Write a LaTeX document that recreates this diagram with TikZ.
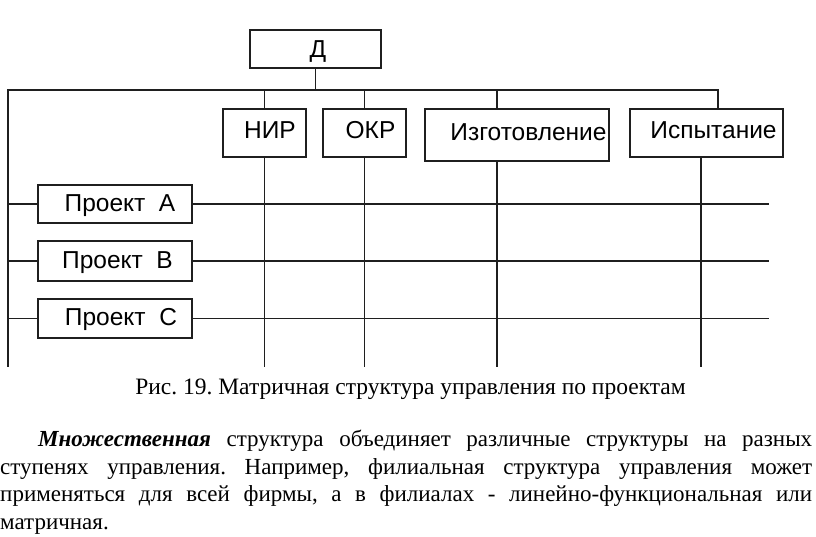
\documentclass[tikz,border=0pt]{standalone}
\usepackage{fontspec}
\setmainfont{Liberation Serif}
\newfontfamily\boxfont{Liberation Sans}
\usetikzlibrary{positioning, calc}
\definecolor{lineBlack}{gray}{0.12}
\frenchspacing
\tikzset{
    unit/.style={draw=lineBlack, line width=1.3pt, inner sep=0pt, text height=17.5pt, text depth=7pt,
        font=\boxfont\fontsize{24.5}{28}\selectfont},
    link/.style={draw=lineBlack, line width=1.3pt}
}

\begin{document}
\begin{tikzpicture}[x=1pt, y=-1pt]
    \useasboundingbox (0,0) rectangle (816,536);
    \fill[white] (0,0) rectangle (816,536);

    % boxes
    \node[unit, text depth=0pt, minimum width=131pt, minimum height=38pt] (D) at (315.5,49) {\hspace*{5pt}Д};
    \node[unit, minimum width=83pt, minimum height=48pt] (nir) at (264.5,133) {\hspace*{11pt}НИР};
    \node[unit, minimum width=83pt, minimum height=48pt] (okr) at (364.5,133) {\hspace*{12pt}ОКР};
    \node[unit, minimum width=184pt, minimum height=52pt] (izg) at (517,135) {\hspace*{23pt}Изготовление};
    \node[unit, minimum width=153pt, minimum height=48pt] (isp) at (706.5,133) {\hspace*{14pt}Испытание};
    \node[unit, text depth=3pt, minimum width=154pt, minimum height=38pt] (pa) at (115,204) {\hspace*{10pt}Проект\ \ А};
    \node[unit, text depth=3pt, minimum width=154pt, minimum height=40pt] (pb) at (115,261) {\hspace*{5pt}Проект\ \ В};
    \node[unit, text depth=3pt, minimum width=154pt, minimum height=39pt] (pc) at (115,318.5) {\hspace*{12pt}Проект\ \ С};

    \coordinate (tl) at (8,90);
    \coordinate (tr) at (718,90);
    \coordinate (bl) at (8,367);
    \coordinate (re) at (769,0);

    % frame lines
    \draw[link] (D.south) -- (D.south |- tl);
    \draw[link] (tr |- isp.north) -- (tr) -- (tl) -- (bl);

    % columns
    \draw[link] (nir.north |- tl) -- (nir.north);
    \draw[link] (nir.south) -- (nir.south |- bl);
    \draw[link] (okr.north |- tl) -- (okr.north);
    \draw[link] (okr.south) -- (okr.south |- bl);
    \draw[link] ([xshift=-20pt]izg.north |- tl) -- ([xshift=-20pt]izg.north);
    \draw[link] ([xshift=-20pt]izg.south) -- ([xshift=-20pt]izg.south |- bl);
    \draw[link] ([xshift=-5.5pt]isp.south) -- ([xshift=-5.5pt]isp.south |- bl);

    % rows
    \foreach \p in {pa, pb, pc} {
        \draw[link] (\p.west -| bl) -- (\p.west);
        \draw[link] (\p.east) -- (\p.east -| re);
    }

    % caption and text
    \node[anchor=base, inner sep=0pt, font=\fontsize{23.5}{27}\selectfont] (cap) at (410.5,394) {Рис. 19. Матричная структура управления по проектам};
    \node[anchor=north west, inner sep=0pt, text width=812pt, align=justify,
          font=\fontsize{23}{27.6}\selectfont] (txt) at (0,430)
        {\hspace*{38pt}\textbf{\textit{Множественная}} структура объединяет различные структуры на разных\linebreak
        ступенях управления. Например, филиальная структура управления может\linebreak
        применяться для всей фирмы, а в филиалах - линейно-функциональная или\linebreak
        матричная.};
\end{tikzpicture}
\end{document}
